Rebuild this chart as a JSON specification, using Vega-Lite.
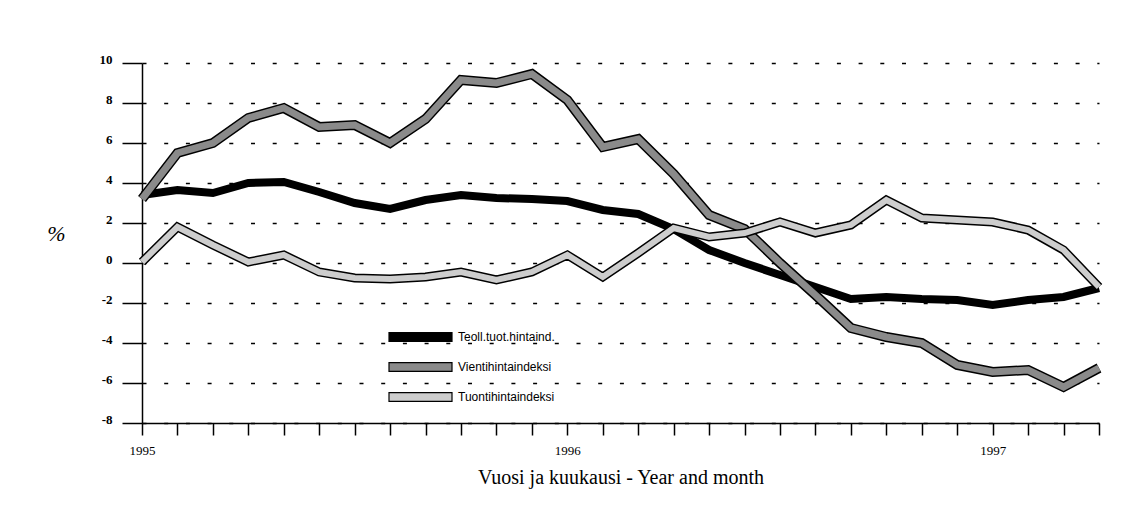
{
  "$schema": "https://vega.github.io/schema/vega-lite/v6.json",
  "autosize": "none",
  "width": 957,
  "height": 360,
  "padding": {"left": 142, "top": 63, "right": 32, "bottom": 82},
  "background": "white",
  "config": {"view": {"stroke": null}},
  "data": {"values": [
    {"m":"1995-01","s":"Teoll.tuot.hintaind.","v":3.4},
    {"m":"1995-02","s":"Teoll.tuot.hintaind.","v":3.65},
    {"m":"1995-03","s":"Teoll.tuot.hintaind.","v":3.5},
    {"m":"1995-04","s":"Teoll.tuot.hintaind.","v":4.0},
    {"m":"1995-05","s":"Teoll.tuot.hintaind.","v":4.05},
    {"m":"1995-06","s":"Teoll.tuot.hintaind.","v":3.55},
    {"m":"1995-07","s":"Teoll.tuot.hintaind.","v":3.0},
    {"m":"1995-08","s":"Teoll.tuot.hintaind.","v":2.7},
    {"m":"1995-09","s":"Teoll.tuot.hintaind.","v":3.15},
    {"m":"1995-10","s":"Teoll.tuot.hintaind.","v":3.4},
    {"m":"1995-11","s":"Teoll.tuot.hintaind.","v":3.25},
    {"m":"1995-12","s":"Teoll.tuot.hintaind.","v":3.2},
    {"m":"1996-01","s":"Teoll.tuot.hintaind.","v":3.1},
    {"m":"1996-02","s":"Teoll.tuot.hintaind.","v":2.65},
    {"m":"1996-03","s":"Teoll.tuot.hintaind.","v":2.45},
    {"m":"1996-04","s":"Teoll.tuot.hintaind.","v":1.7},
    {"m":"1996-05","s":"Teoll.tuot.hintaind.","v":0.65},
    {"m":"1996-06","s":"Teoll.tuot.hintaind.","v":0.0},
    {"m":"1996-07","s":"Teoll.tuot.hintaind.","v":-0.6},
    {"m":"1996-08","s":"Teoll.tuot.hintaind.","v":-1.2},
    {"m":"1996-09","s":"Teoll.tuot.hintaind.","v":-1.8},
    {"m":"1996-10","s":"Teoll.tuot.hintaind.","v":-1.7},
    {"m":"1996-11","s":"Teoll.tuot.hintaind.","v":-1.8},
    {"m":"1996-12","s":"Teoll.tuot.hintaind.","v":-1.85},
    {"m":"1997-01","s":"Teoll.tuot.hintaind.","v":-2.1},
    {"m":"1997-02","s":"Teoll.tuot.hintaind.","v":-1.85},
    {"m":"1997-03","s":"Teoll.tuot.hintaind.","v":-1.7},
    {"m":"1997-04","s":"Teoll.tuot.hintaind.","v":-1.25},
    {"m":"1995-01","s":"Vientihintaindeksi","v":3.2},
    {"m":"1995-02","s":"Vientihintaindeksi","v":5.5},
    {"m":"1995-03","s":"Vientihintaindeksi","v":6.0},
    {"m":"1995-04","s":"Vientihintaindeksi","v":7.25},
    {"m":"1995-05","s":"Vientihintaindeksi","v":7.75},
    {"m":"1995-06","s":"Vientihintaindeksi","v":6.8},
    {"m":"1995-07","s":"Vientihintaindeksi","v":6.9},
    {"m":"1995-08","s":"Vientihintaindeksi","v":6.0},
    {"m":"1995-09","s":"Vientihintaindeksi","v":7.2},
    {"m":"1995-10","s":"Vientihintaindeksi","v":9.15},
    {"m":"1995-11","s":"Vientihintaindeksi","v":9.0},
    {"m":"1995-12","s":"Vientihintaindeksi","v":9.45},
    {"m":"1996-01","s":"Vientihintaindeksi","v":8.15},
    {"m":"1996-02","s":"Vientihintaindeksi","v":5.8},
    {"m":"1996-03","s":"Vientihintaindeksi","v":6.2},
    {"m":"1996-04","s":"Vientihintaindeksi","v":4.45},
    {"m":"1996-05","s":"Vientihintaindeksi","v":2.4},
    {"m":"1996-06","s":"Vientihintaindeksi","v":1.7},
    {"m":"1996-07","s":"Vientihintaindeksi","v":0.0},
    {"m":"1996-08","s":"Vientihintaindeksi","v":-1.6},
    {"m":"1996-09","s":"Vientihintaindeksi","v":-3.25},
    {"m":"1996-10","s":"Vientihintaindeksi","v":-3.7},
    {"m":"1996-11","s":"Vientihintaindeksi","v":-4.0},
    {"m":"1996-12","s":"Vientihintaindeksi","v":-5.1},
    {"m":"1997-01","s":"Vientihintaindeksi","v":-5.45},
    {"m":"1997-02","s":"Vientihintaindeksi","v":-5.35},
    {"m":"1997-03","s":"Vientihintaindeksi","v":-6.2},
    {"m":"1997-04","s":"Vientihintaindeksi","v":-5.25},
    {"m":"1995-01","s":"Tuontihintaindeksi","v":0.05},
    {"m":"1995-02","s":"Tuontihintaindeksi","v":1.8},
    {"m":"1995-03","s":"Tuontihintaindeksi","v":0.9},
    {"m":"1995-04","s":"Tuontihintaindeksi","v":0.05},
    {"m":"1995-05","s":"Tuontihintaindeksi","v":0.4},
    {"m":"1995-06","s":"Tuontihintaindeksi","v":-0.45},
    {"m":"1995-07","s":"Tuontihintaindeksi","v":-0.75},
    {"m":"1995-08","s":"Tuontihintaindeksi","v":-0.8},
    {"m":"1995-09","s":"Tuontihintaindeksi","v":-0.7},
    {"m":"1995-10","s":"Tuontihintaindeksi","v":-0.45},
    {"m":"1995-11","s":"Tuontihintaindeksi","v":-0.85},
    {"m":"1995-12","s":"Tuontihintaindeksi","v":-0.45},
    {"m":"1996-01","s":"Tuontihintaindeksi","v":0.4},
    {"m":"1996-02","s":"Tuontihintaindeksi","v":-0.7},
    {"m":"1996-03","s":"Tuontihintaindeksi","v":0.5},
    {"m":"1996-04","s":"Tuontihintaindeksi","v":1.75},
    {"m":"1996-05","s":"Tuontihintaindeksi","v":1.3},
    {"m":"1996-06","s":"Tuontihintaindeksi","v":1.5},
    {"m":"1996-07","s":"Tuontihintaindeksi","v":2.05},
    {"m":"1996-08","s":"Tuontihintaindeksi","v":1.5},
    {"m":"1996-09","s":"Tuontihintaindeksi","v":1.9},
    {"m":"1996-10","s":"Tuontihintaindeksi","v":3.15},
    {"m":"1996-11","s":"Tuontihintaindeksi","v":2.25},
    {"m":"1996-12","s":"Tuontihintaindeksi","v":2.15},
    {"m":"1997-01","s":"Tuontihintaindeksi","v":2.05},
    {"m":"1997-02","s":"Tuontihintaindeksi","v":1.65},
    {"m":"1997-03","s":"Tuontihintaindeksi","v":0.65},
    {"m":"1997-04","s":"Tuontihintaindeksi","v":-1.2}
  ]},
  "encoding": {
    "x": {
      "field": "m", "type": "ordinal",
      "scale": {"type": "point", "padding": 0},
      "axis": {
        "labelExpr": "slice(datum.label, 5) == '01' ? slice(datum.label, 0, 4) : ''",
        "labelAngle": 0,
        "labelFont": "Liberation Serif", "labelFontSize": 13, "labelFontWeight": "normal", "labelColor": "black",
        "labelPadding": 9,
        "tickSize": 12, "tickColor": "black", "tickWidth": 1.5,
        "domainColor": "black", "domainWidth": 1.5,
        "labelOverlap": false,
        "grid": false,
        "title": "Vuosi ja kuukausi - Year and month",
        "titleFont": "Liberation Serif", "titleFontSize": 20, "titleFontWeight": "normal", "titleColor": "black",
        "titlePadding": 10
      }
    },
    "y": {
      "field": "v", "type": "quantitative",
      "scale": {"domain": [-8, 10], "nice": false, "zero": false},
      "axis": {
        "values": [-8, -6, -4, -2, 0, 2, 4, 6, 8, 10],
        "labelExpr": "toString(datum.value)",
        "labelFont": "Liberation Serif", "labelFontSize": 13, "labelFontWeight": "bold", "labelColor": "black",
        "labelPadding": 10, "labelOffset": -4,
        "tickSize": 20, "tickColor": "black", "tickWidth": 1.5,
        "domainColor": "black", "domainWidth": 1.5,
        "grid": true, "gridColor": "black", "gridDash": [4, 17.7], "gridWidth": 1.3, "gridOpacity": 1,
        "title": "%", "titleAngle": 0, "titleX": -86, "titleY": 170,
        "titleAlign": "center", "titleBaseline": "middle",
        "titleFont": "Liberation Serif", "titleFontSize": 22, "titleFontStyle": "italic", "titleFontWeight": "normal", "titleColor": "black"
      }
    }
  },
  "layer": [
    {
      "mark": {"type": "point", "filled": true, "opacity": 0, "size": 1},
      "encoding": {
        "fill": {
          "field": "s", "type": "nominal",
          "scale": {"domain": ["Teoll.tuot.hintaind.", "Vientihintaindeksi", "Tuontihintaindeksi"], "range": ["#000000", "#8a8a8a", "#cdcdcd"]},
          "legend": {
            "title": null, "orient": "none", "legendX": 246, "legendY": 266,
            "symbolType": "M-1,-0.14H1V0.14H-1Z", "symbolSize": 3969,
            "symbolStrokeColor": "black", "symbolStrokeWidth": 1.2, "symbolOpacity": 1,
            "clipHeight": 16, "rowPadding": 14,
            "labelOffset": 5, "labelFont": "Liberation Sans", "labelFontSize": 12, "labelColor": "black"
          }
        }
      }
    },
    {
      "transform": [{"filter": "datum.s == 'Teoll.tuot.hintaind.'"}],
      "mark": {"type": "line", "strokeWidth": 8, "color": "black", "strokeJoin": "miter"},
      "encoding": {}
    },
    {
      "transform": [{"filter": "datum.s == 'Vientihintaindeksi'"}],
      "mark": {"type": "line", "strokeWidth": 10, "color": "black", "strokeJoin": "miter"},
      "encoding": {}
    },
    {
      "transform": [{"filter": "datum.s == 'Vientihintaindeksi'"}],
      "mark": {"type": "line", "strokeWidth": 7, "color": "#8a8a8a", "strokeJoin": "miter"},
      "encoding": {}
    },
    {
      "transform": [{"filter": "datum.s == 'Tuontihintaindeksi'"}],
      "mark": {"type": "line", "strokeWidth": 9, "color": "black", "strokeJoin": "miter"},
      "encoding": {}
    },
    {
      "transform": [{"filter": "datum.s == 'Tuontihintaindeksi'"}],
      "mark": {"type": "line", "strokeWidth": 6, "color": "#cdcdcd", "strokeJoin": "miter"},
      "encoding": {}
    }
  ]
}
